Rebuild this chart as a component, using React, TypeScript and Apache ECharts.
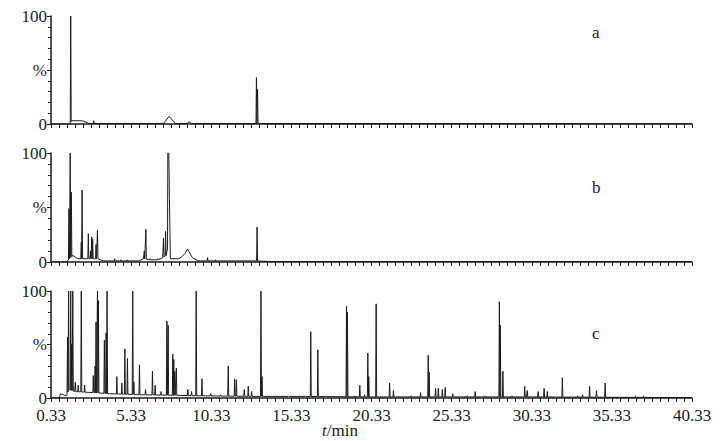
import React, { useEffect, useRef } from "react";
import * as echarts from "echarts";

// retention time offset of the axis start
const T0 = 0.33;
const T1 = 40.33;

// Panel a
const aPeakT = [1.56, 3.0, 13.15, 13.22];
const aPeakH = [100, 3, 43, 32];
const aBase: number[][] = [
  [0.33, 0], [1.5, 0], [1.62, 3], [2.3, 3], [2.7, 0.5], [7.35, 0.5], [7.7, 7], [8.1, 0.5],
  [8.8, 0.5], [8.95, 2], [9.1, 0.5], [40.33, 0.3],
];

// Panel b
const bPeakT = [1.45, 1.53, 1.6, 2.22, 2.27, 2.66, 2.8, 2.87, 2.93, 3.14, 3.23, 4.3, 4.7, 5.1,
  6.15, 6.25, 6.5, 7.0, 7.35, 7.48, 10.1, 10.58, 12.5, 13.19];
const bPeakH = [49, 100, 64, 18, 66, 26, 10, 23, 21, 16, 29, 3, 2, 2,
  10, 30, 3, 3, 22, 28, 4, 2, 1.5, 32];
const bBase: number[][] = [
  [0.33, 0], [1.3, 0], [1.42, 2], [1.7, 6], [2.0, 3], [3.3, 3], [3.6, 1], [5.8, 1], [6.1, 3],
  [6.5, 2], [7.0, 2], [7.3, 4], [7.52, 6], [7.6, 12], [7.62, 100], [7.68, 100], [7.72, 58],
  [7.78, 3], [8.3, 3], [8.5, 5], [8.7, 8], [8.85, 12], [9.0, 8], [9.15, 4], [9.5, 1], [13, 1],
  [14, 0.5], [40.33, 0.5],
];

// Panel c
const cPeakT = [1.36, 1.43, 1.56, 1.62, 1.69, 1.85, 2.03, 2.22, 2.43, 2.97, 3.08, 3.14, 3.23,
  3.29, 3.66, 3.77, 3.83, 4.44, 4.75, 4.94, 5.1, 5.43, 5.5, 5.85, 6.23, 6.66, 6.83, 7.2, 7.56,
  7.64, 7.93, 7.99, 8.05, 8.15, 8.87, 9.1, 9.39, 9.75, 10.3, 10.9, 11.39, 11.79, 11.9, 12.39,
  12.64, 12.85, 13.43, 13.5, 15.16, 16.2, 16.54, 16.98, 17.5, 18.77, 18.83, 19.3, 19.6, 19.9,
  20.1, 20.16, 20.62, 21.46, 21.7, 22.8, 23.39, 23.87, 23.93, 24.33, 24.5, 24.75, 24.93, 25.4,
  26.3, 26.8, 27.4, 28.31, 28.37, 28.53, 29.1, 29.89, 30.05, 30.73, 31.1, 31.3, 32.24, 33.2,
  33.5, 33.94, 34.37, 34.91, 36.8, 37.3];
const cPeakH = [57, 100, 100, 50, 100, 15, 12, 100, 12, 21, 30, 71, 100,
  91, 54, 61, 100, 20, 14, 46, 37, 100, 15, 31, 8, 25, 12, 6, 72,
  68, 41, 36, 25, 28, 8, 6, 100, 18, 4, 3, 30, 18, 17, 8,
  11, 6, 100, 20, 2, 2, 62, 45, 2, 86, 80, 2, 12, 3,
  42, 20, 88, 14, 7, 2, 5, 40, 24, 9, 9, 8, 10, 4,
  2, 6, 2, 90, 68, 25, 2, 11, 7, 6, 9, 6, 19, 2,
  3, 11, 7, 14, 2, 2];
const cBase: number[][] = [
  [0.33, 0], [0.85, 0], [0.92, 4], [1.1, 3], [1.3, 2], [1.45, 8], [1.8, 6], [3.0, 5], [4.0, 4],
  [6.0, 3], [8.0, 2.5], [10, 2], [13, 1.5], [16, 1.5], [20, 1], [30, 1], [38, 0.5], [40.33, 0.5],
];

const panelLabels = ["a", "b", "c"];
const yTickLabels: Record<number, string> = { 0: "0", 50: "%", 100: "100" };

function baseAt(knots: number[][], t: number): number {
  for (let i = 0; i < knots.length - 1; i++) {
    const [t1, v1] = knots[i];
    const [t2, v2] = knots[i + 1];
    if (t >= t1 && t <= t2) return v1 + ((v2 - v1) * (t - t1)) / (t2 - t1 || 1);
  }
  return knots[knots.length - 1][1];
}

function trace(knots: number[][], pt: number[], ph: number[], w = 0.03): number[][] {
  const pts: number[][] = knots.map(([t, v]) => [t, v]);
  pt.forEach((t, i) => {
    pts.push([t - w, baseAt(knots, t - w)], [t, ph[i]], [t + w, baseAt(knots, t + w)]);
  });
  pts.sort((a, b) => a[0] - b[0]);
  return pts.map(([t, v]) => [t - T0, v]);
}

const FONT = "Liberation Serif";
const INK = "#1c1c1c";

export default function App() {
  const ref = useRef<HTMLDivElement>(null);
  useEffect(() => {
    if (!ref.current) return;
    const chart = echarts.init(ref.current, undefined, { renderer: "svg" });
    const grids = [
      { left: 51, top: 16, width: 641, height: 108 },
      { left: 51, top: 153, width: 641, height: 109 },
      { left: 51, top: 291, width: 641, height: 107 },
    ];
    const datasets = [
      trace(aBase, aPeakT, aPeakH),
      trace(bBase, bPeakT, bPeakH),
      trace(cBase, cPeakT, cPeakH),
    ];
    const option: any = {
      animation: false,
      backgroundColor: "#fff",
      textStyle: { fontFamily: FONT },
      grid: grids,
      xAxis: grids.map((_, i) => ({
        gridIndex: i,
        type: "value",
        min: 0,
        max: T1 - T0,
        interval: 5,
        axisLine: { show: true, onZero: false, lineStyle: { color: INK, width: 1.5 } },
        axisTick: { show: true, length: 4, lineStyle: { color: INK, width: 1 } },
        minorTick: { show: true, splitNumber: 10, length: 4, lineStyle: { color: INK, width: 1 } },
        splitLine: { show: false },
        minorSplitLine: { show: false },
        axisLabel: {
          show: i === 2,
          margin: 9,
          fontFamily: FONT,
          fontSize: 17,
          color: INK,
          formatter: (v: number) => (v + T0).toFixed(2),
        },
      })),
      yAxis: grids.map((_, i) => ({
        gridIndex: i,
        type: "value",
        min: 0,
        max: 100,
        interval: 50,
        axisLine: { show: true, lineStyle: { color: INK, width: 1.5 } },
        axisTick: { show: true, length: 4, lineStyle: { color: INK, width: 1 } },
        minorTick: { show: true, splitNumber: 5, length: 3, lineStyle: { color: INK, width: 1 } },
        splitLine: { show: false },
        minorSplitLine: { show: false },
        axisLabel: {
          margin: 4,
          fontFamily: FONT,
          fontSize: 17,
          color: INK,
          formatter: (v: number) => yTickLabels[v] ?? "",
        },
      })),
      series: datasets.map((d, i) => ({
        type: "line",
        xAxisIndex: i,
        yAxisIndex: i,
        data: d,
        symbol: "none",
        showSymbol: false,
        clip: true,
        lineStyle: { color: INK, width: 1 },
      })),
      graphic: [
        ...panelLabels.map((s, i) => ({
          type: "text",
          left: 592,
          top: [24, 179, 325][i],
          style: { text: s, fontFamily: FONT, fontSize: 17, fill: INK },
        })),
        {
          type: "text",
          left: 322,
          top: 422,
          style: {
            text: "{i|t}/min",
            fontFamily: FONT,
            fontSize: 17,
            fill: INK,
            rich: { i: { fontStyle: "italic", fontFamily: FONT, fontSize: 17, fill: INK } },
          },
        },
      ],
    };
    chart.setOption(option);
    return () => chart.dispose();
  }, []);
  return (
    <div
      ref={ref}
      style={{ position: "fixed", left: 0, top: 0, width: 722, height: 441, background: "#fff" }}
    />
  );
}
